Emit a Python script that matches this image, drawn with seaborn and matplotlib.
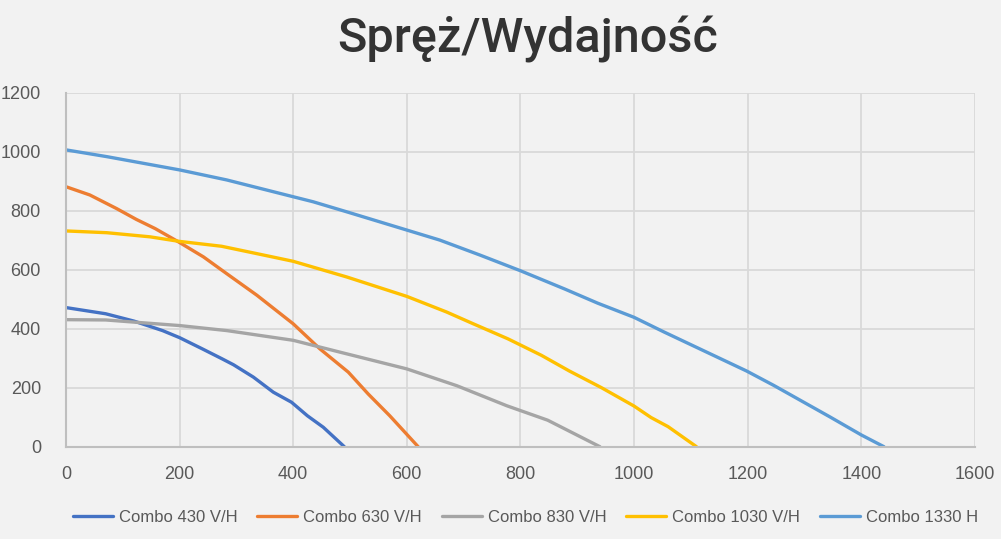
import pandas as pd
import matplotlib.pyplot as plt
import seaborn as sns

# wydajnosc [m3/h] i spręż [Pa]
c430_x = [0, 70, 120, 170, 200, 240, 275, 295, 330, 365, 397, 425, 453, 490]
c430_y = [472, 451, 426, 394, 370, 332, 298, 278, 236, 185, 151, 105, 66, 0]

c630_x = [0, 42, 89, 124, 157, 198, 242, 283, 336, 400, 447, 497, 532, 570, 620]
c630_y = [882, 854, 808, 771, 740, 695, 644, 587, 514, 417, 332, 253, 179, 105, 0]

c830_x = [0, 70, 200, 283, 400, 482, 600, 688, 776, 848, 940]
c830_y = [431, 430, 411, 394, 361, 321, 264, 207, 139, 90, 0]

c1030_x = [0, 72, 148, 198, 274, 336, 400, 494, 600, 670, 717, 778, 837, 886, 942, 1000, 1030, 1060, 1110]
c1030_y = [732, 726, 712, 697, 680, 655, 629, 576, 510, 457, 417, 366, 310, 257, 201, 138, 99, 68, 0]

c1330_x = [0, 72, 200, 283, 400, 435, 494, 600, 658, 729, 800, 878, 936, 1000, 1053, 1198, 1246, 1345, 1400, 1440]
c1330_y = [1007, 984, 939, 905, 848, 831, 797, 735, 701, 650, 597, 535, 487, 439, 389, 257, 208, 101, 40, 0]

names = ['Combo 430 V/H', 'Combo 630 V/H', 'Combo 830 V/H', 'Combo 1030 V/H', 'Combo 1330 H']
colors = ['#4472C4', '#ED7D31', '#A5A5A5', '#FFC000', '#5B9BD5']

x_ticks = [0, 200, 400, 600, 800, 1000, 1200, 1400, 1600]
y_ticks = [0, 200, 400, 600, 800, 1000, 1200]

series = [(c430_x, c430_y), (c630_x, c630_y), (c830_x, c830_y), (c1030_x, c1030_y), (c1330_x, c1330_y)]
frames = []
for name, (xs, ys) in zip(names, series):
    frames.append(pd.DataFrame({'x': xs, 'y': ys, 'model': name}))
df = pd.concat(frames, ignore_index=True)

sns.set_style('white')
plt.rcParams['font.family'] = ['Liberation Sans', 'DejaVu Sans']

bg = '#f2f2f2'
fig = plt.figure(figsize=(10.01, 5.39), dpi=100, facecolor=bg)
ax = fig.add_axes([0.0659, 0.1712, 0.908, 0.6563])
ax.set_facecolor(bg)

sns.lineplot(data=df, x='x', y='y', hue='model', hue_order=names, palette=colors,
             linewidth=2.4, ax=ax, legend=False, estimator=None)

ax.set_xlim(0, 1600)
ax.set_ylim(0, 1200)
ax.set_xticks(x_ticks)
ax.set_yticks(y_ticks)
ax.grid(True, color='#d9d9d9', linewidth=1.3)
ax.set_axisbelow(True)
for side in ['top', 'right']:
    ax.spines[side].set_visible(False)
for side in ['left', 'bottom']:
    ax.spines[side].set_color('#bfbfbf')
    ax.spines[side].set_linewidth(1.5)
ax.tick_params(axis='both', length=0, labelsize=13, labelcolor='#595959')
ax.tick_params(axis='y', pad=18)
ax.tick_params(axis='x', pad=14)
ax.set_xlabel('')
ax.set_ylabel('')

fig.text(0.527, 0.927, 'Spręż/Wydajność', ha='center', va='center', fontsize=35,
         color='#333333', family=['Roboto', 'DejaVu Sans'], fontweight='medium')

handles = [plt.Line2D([], [], color=c, linewidth=2.4) for c in colors]
fig.legend(handles, names, loc='center', bbox_to_anchor=(0.525, 0.04), ncol=5, frameon=False,
           fontsize=12, labelcolor='#595959', handlelength=2.4, columnspacing=1.2, handletextpad=0.35)

fig.savefig('out.png', dpi=100, facecolor=bg)
